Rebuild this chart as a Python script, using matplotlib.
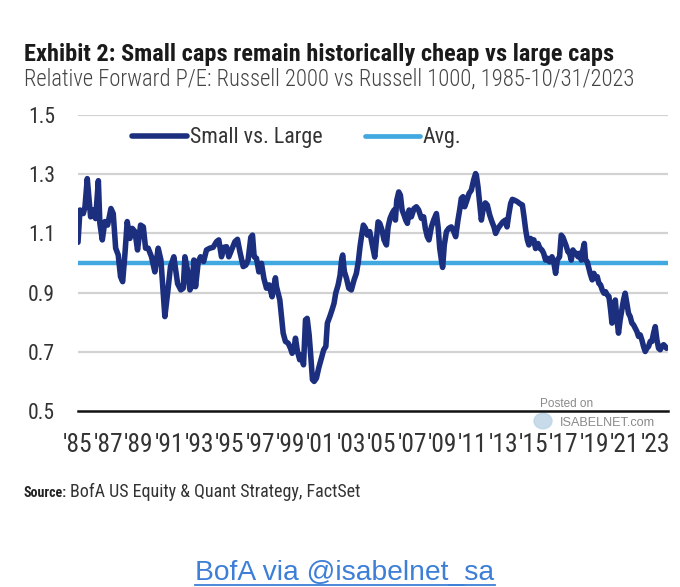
import os
import matplotlib
matplotlib.use("Agg")
import matplotlib.pyplot as plt
from matplotlib.lines import Line2D
from matplotlib.patches import Circle
from matplotlib import font_manager as fm

# ---------------- data ----------------
dates = [
    1985.00, 1985.13, 1985.35, 1985.46, 1985.61, 1985.72, 1985.83, 1986.01, 1986.16, 1986.34,
    1986.44, 1986.60, 1986.77, 1986.95, 1987.17, 1987.32, 1987.48, 1987.65, 1987.80, 1987.94,
    1988.09, 1988.24, 1988.42, 1988.57, 1988.75, 1988.92, 1989.12, 1989.30, 1989.45, 1989.62,
    1989.84, 1990.06, 1990.28, 1990.46, 1990.61, 1990.72, 1990.90, 1991.09, 1991.31,
    1991.56, 1991.77, 1991.93, 1992.04, 1992.21, 1992.37, 1992.52, 1992.63, 1992.74, 1992.92,
    1993.07, 1993.27, 1993.46, 1993.68, 1993.90, 1994.12, 1994.27, 1994.45, 1994.60, 1994.78,
    1994.93, 1995.11, 1995.33, 1995.50, 1995.66, 1995.88, 1996.05, 1996.20, 1996.38, 1996.49,
    1996.60, 1996.75, 1996.91, 1997.08, 1997.24, 1997.41, 1997.59, 1997.78, 1998.00,
    1998.07, 1998.29, 1998.40, 1998.51, 1998.66, 1998.84, 1998.99, 1999.10, 1999.21, 1999.32,
    1999.45, 1999.60, 1999.71, 1999.85, 1999.98, 2000.09, 2000.22, 2000.33, 2000.44, 2000.55,
    2000.70, 2000.85, 2001.03, 2001.18, 2001.32, 2001.42, 2001.58, 2001.73, 2001.86, 2001.97,
    2002.13, 2002.26, 2002.37, 2002.43, 2002.54, 2002.68, 2002.83, 2003.00, 2003.18, 2003.33,
    2003.46, 2003.57, 2003.68, 2003.79, 2003.93, 2004.06, 2004.21, 2004.36, 2004.54,
    2004.65, 2004.76, 2004.87, 2005.02, 2005.15, 2005.31, 2005.42, 2005.55, 2005.68, 2005.81,
    2005.90, 2005.99, 2006.12, 2006.23, 2006.34, 2006.47, 2006.58, 2006.69, 2006.80, 2006.95,
    2007.13, 2007.28, 2007.43, 2007.61, 2007.76, 2007.87, 2008.00, 2008.11, 2008.27, 2008.42,
    2008.60, 2008.71, 2008.82, 2008.93, 2009.01, 2009.12, 2009.26, 2009.41, 2009.58, 2009.74,
    2009.87, 2010.02, 2010.13, 2010.24, 2010.35, 2010.46, 2010.61, 2010.75, 2010.90, 2011.05,
    2011.18, 2011.23, 2011.34, 2011.45, 2011.56, 2011.67, 2011.82, 2011.95, 2012.11, 2012.26,
    2012.39, 2012.50, 2012.66, 2012.81, 2012.98, 2013.14, 2013.25, 2013.36, 2013.49, 2013.60,
    2013.75, 2013.93, 2014.08, 2014.26, 2014.37, 2014.48, 2014.59, 2014.69, 2014.80, 2014.91,
    2015.02, 2015.13, 2015.29, 2015.42, 2015.55, 2015.66, 2015.79, 2015.90, 2016.05, 2016.21,
    2016.34, 2016.45, 2016.56, 2016.71, 2016.82, 2016.93, 2017.04, 2017.15, 2017.26, 2017.37,
    2017.48, 2017.59, 2017.70, 2017.81, 2017.92, 2018.03, 2018.14, 2018.25, 2018.34, 2018.42,
    2018.53, 2018.64, 2018.75, 2018.86, 2018.97, 2019.08, 2019.19, 2019.30, 2019.41, 2019.52,
    2019.63, 2019.74, 2019.85, 2019.96, 2020.07, 2020.16, 2020.27, 2020.38, 2020.49, 2020.59,
    2020.70, 2020.81, 2020.92, 2021.03, 2021.14, 2021.25, 2021.36, 2021.47, 2021.58, 2021.69,
    2021.80, 2021.91, 2022.02, 2022.13, 2022.24, 2022.35, 2022.46, 2022.57, 2022.68, 2022.79,
    2022.90, 2023.01, 2023.12, 2023.23, 2023.34, 2023.45, 2023.56, 2023.67, 2023.75,
]
small_vs_large = [
    1.070, 1.179, 1.167, 1.190, 1.285, 1.220, 1.156, 1.180, 1.150, 1.278,
    1.134, 1.078, 1.140, 1.128, 1.184, 1.167, 1.050, 1.027, 0.954, 0.937,
    1.030, 1.140, 1.083, 1.117, 1.106, 1.044, 1.128, 1.122, 1.050, 1.050,
    1.021, 0.970, 1.050, 1.010, 0.898, 0.819, 0.898, 0.988, 1.021,
    0.930, 0.909, 0.915, 1.021, 0.976, 0.909, 0.926, 1.010, 0.920, 1.005,
    1.021, 1.005, 1.044, 1.050, 1.053, 1.072, 1.078, 1.021, 1.053, 1.055,
    1.021, 1.044, 1.072, 1.080, 1.038, 0.988, 0.993, 1.010, 1.087, 1.094,
    1.021, 1.016, 0.970, 0.999, 0.948, 0.915, 0.926, 0.886, 0.950,
    0.920, 0.875, 0.819, 0.763, 0.735, 0.729, 0.712, 0.695, 0.707, 0.746,
    0.701, 0.673, 0.690, 0.656, 0.808, 0.813, 0.757, 0.684, 0.606, 0.600,
    0.611, 0.645, 0.679, 0.707, 0.718, 0.797, 0.819, 0.842, 0.864, 0.898,
    0.926, 0.960, 1.016, 1.027, 0.971, 0.948, 0.915, 0.909, 0.943, 0.965,
    1.005, 1.055, 1.094, 1.128, 1.117, 1.094, 1.106, 1.066, 1.020,
    1.078, 1.139, 1.134, 1.111, 1.078, 1.061, 1.122, 1.151, 1.167, 1.179,
    1.145, 1.212, 1.240, 1.229, 1.179, 1.162, 1.145, 1.134, 1.179, 1.156,
    1.184, 1.190, 1.179, 1.151, 1.156, 1.117, 1.089, 1.078, 1.122, 1.145,
    1.167, 1.122, 1.049, 1.010, 0.985, 1.061, 1.106, 1.117, 1.122, 1.106,
    1.089, 1.145, 1.179, 1.218, 1.224, 1.190, 1.212, 1.235, 1.246, 1.280,
    1.302, 1.297, 1.257, 1.201, 1.145, 1.179, 1.203, 1.196, 1.162, 1.139,
    1.122, 1.100, 1.117, 1.128, 1.139, 1.145, 1.122, 1.162, 1.201, 1.215,
    1.212, 1.207, 1.201, 1.196, 1.156, 1.111, 1.078, 1.061, 1.083, 1.069,
    1.078, 1.049, 1.066, 1.049, 1.044, 1.033, 1.010, 1.016, 1.004, 1.021,
    0.999, 0.965, 1.010, 1.021, 1.094, 1.087, 1.072, 1.057, 1.038, 1.033,
    1.010, 1.044, 1.033, 1.033, 1.021, 1.033, 1.010, 1.046, 1.066, 1.010,
    1.004, 0.982, 0.960, 0.943, 0.965, 0.948, 0.954, 0.931, 0.926, 0.909,
    0.898, 0.903, 0.892, 0.887, 0.842, 0.797, 0.853, 0.875, 0.808, 0.763,
    0.808, 0.842, 0.875, 0.898, 0.864, 0.830, 0.819, 0.797, 0.791, 0.780,
    0.769, 0.752, 0.757, 0.740, 0.718, 0.701, 0.712, 0.718, 0.735, 0.735,
    0.763, 0.785, 0.740, 0.712, 0.707, 0.718, 0.724, 0.718, 0.712,
]
avg_value = 1.0
y_ticks = [0.5, 0.7, 0.9, 1.1, 1.3, 1.5]
y_tick_labels = ["0.5", "0.7", "0.9", "1.1", "1.3", "1.5"]
x_ticks = list(range(1985, 2024, 2))
x_tick_labels = ["'%02d" % (y % 100) for y in x_ticks]
series_labels = ["Small vs. Large", "Avg."]

title = "Exhibit 2: Small caps remain historically cheap vs large caps"
subtitle = "Relative Forward P/E: Russell 2000 vs Russell 1000, 1985-10/31/2023"
source_label = "Source:"
source_text = "BofA US Equity & Quant Strategy, FactSet"
link_text = "BofA via @isabelnet_sa"


# ---------------- font helpers ----------------
def _w(f):
    w = f.weight
    if isinstance(w, str):
        return fm.weight_dict.get(w, 400)
    return w


def condensed_font(weight=400):
    prefs = ["roboto", "liberation", "open sans", "noto sans", "dejavu sans", "lato", "inter"]
    cands = []
    for f in fm.fontManager.ttflist:
        nm = f.name.lower()
        fn = os.path.basename(f.fname).lower()
        if "mono" in nm or "serif" in nm or "mono" in fn or "cjk" in nm:
            continue
        is_cond = ("condensed" in nm or "narrow" in nm or "condensed" in fn
                   or "narrow" in fn or "cond" in fn
                   or str(f.stretch) in ("condensed", "semi-condensed"))
        if not is_cond or f.style != "normal":
            continue
        pen = 0
        if "extra" in fn or "ultra" in fn or "extra" in nm:
            pen += 5
        if "semi" in fn or "semi" in nm:
            pen += 2
        rank = len(prefs)
        for i, p in enumerate(prefs):
            if p in nm:
                rank = i
                break
        cands.append((pen, rank, abs(_w(f) - weight), f.fname))
    if cands:
        cands.sort()
        return fm.FontProperties(fname=cands[0][3])
    return fm.FontProperties(family=["Roboto", "DejaVu Sans"],
                             weight="bold" if weight >= 600 else "normal")


F_REG = condensed_font(400)
F_LIGHT = condensed_font(300)
F_BOLD = condensed_font(700)
F_LINK = fm.FontProperties(family=["Liberation Sans", "DejaVu Sans"])

# ---------------- style ----------------
NAVY = "#1c2f7f"
LIGHT = "#42a8e0"
GRID = "#d2d2d2"
TXT = "#333333"

W, H = 680, 587
fig = plt.figure(figsize=(W / 100, H / 100), dpi=100)
fig.patch.set_facecolor("white")
renderer = fig.canvas.get_renderer()


def fit_size(text, fp, target_px, base=20.0, max_size=None):
    t = fig.text(0, 0, text, fontproperties=fp, fontsize=base)
    w = t.get_window_extent(renderer).width
    t.remove()
    s = base * target_px / w
    if max_size is not None:
        s = min(s, max_size)
    return s


def ftext(x_px, y_px, text, fp, target_px, color, ha="left", max_size=None):
    s = fit_size(text, fp, target_px, max_size=max_size)
    return fig.text(x_px / W, 1 - y_px / H, text, fontproperties=fp, fontsize=s,
                    color=color, va="baseline", ha=ha)


ax = fig.add_axes([78 / W, 1 - 411 / H, 590 / W, 296 / H])
ax.set_xlim(1985.0, 2023.85)
ax.set_ylim(0.5, 1.5)

for yv in y_ticks[1:]:
    ax.axhline(yv, color=GRID, lw=1.6, zorder=1)

ax.axhline(avg_value, color=LIGHT, lw=3.2, zorder=2)
ax.plot(dates, small_vs_large, color=NAVY, lw=4.0, zorder=3,
        solid_joinstyle="round", solid_capstyle="round")

for s in ["top", "right", "left"]:
    ax.spines[s].set_visible(False)
ax.spines["bottom"].set_color("#111111")
ax.spines["bottom"].set_linewidth(1.8)
ax.spines["bottom"].set_zorder(4)

ysz = fit_size("1.5", F_REG, 27, max_size=17)
xsz = fit_size("'85", F_REG, 29.5, max_size=21)
ax.set_yticks(y_ticks)
ax.set_yticklabels(y_tick_labels, fontproperties=F_REG, fontsize=ysz, color=TXT)
ax.set_xticks(x_ticks)
ax.set_xticklabels(x_tick_labels, fontproperties=F_REG, fontsize=xsz, color=TXT)
ax.tick_params(axis="y", length=0, pad=16.5)
ax.tick_params(axis="x", length=0, pad=15.5)

# legend
lsz = fit_size(series_labels[0], F_REG, 133, max_size=18)
fs_px = lsz * 100 / 72
lprop = F_REG.copy()
lprop.set_size(lsz)
handles = [Line2D([], [], color=NAVY, lw=4.0, solid_capstyle="round"),
           Line2D([], [], color=LIGHT, lw=3.4, solid_capstyle="round")]
leg = ax.legend(handles, series_labels, ncol=2, loc="center left",
                bbox_to_anchor=((132 - 78) / 590, (411 - 138) / 296), frameon=False,
                prop=lprop, handlelength=55 / fs_px,
                handletextpad=3 / fs_px, columnspacing=42 / fs_px,
                borderpad=0, borderaxespad=0)
for t in leg.get_texts():
    t.set_color(TXT)

# titles
ftext(24, 61, title, F_BOLD, 590, "#1a1a1a")
ftext(24, 86, subtitle, F_LIGHT, 610, "#444444")

# source
ftext(23, 497, source_label, F_BOLD, 43, "#222222")
ftext(70, 497, source_text, F_REG, 290, "#333333")

# watermark
fig.add_artist(Circle((543 / W, 1 - 421 / H), 9 / W, color="#b9d3e6", alpha=0.8,
                      transform=fig.transFigure, zorder=0))
ftext(540, 407, "Posted on", F_LINK, 53, "#8a8a8a")
ftext(560, 426, "ISABELNET.com", F_LINK, 95, "#8a8a8a")

# link with underline
lk = ftext(345, 580, link_text, F_LINK, 298, "#3d7fd6", ha="center")
bb = lk.get_window_extent(renderer)
uy = 1 - 585 / H
fig.add_artist(Line2D([bb.x0 / W, bb.x1 / W], [uy, uy], color="#3d7fd6", lw=1.3))

fig.savefig("out.png", dpi=100, facecolor="white")
